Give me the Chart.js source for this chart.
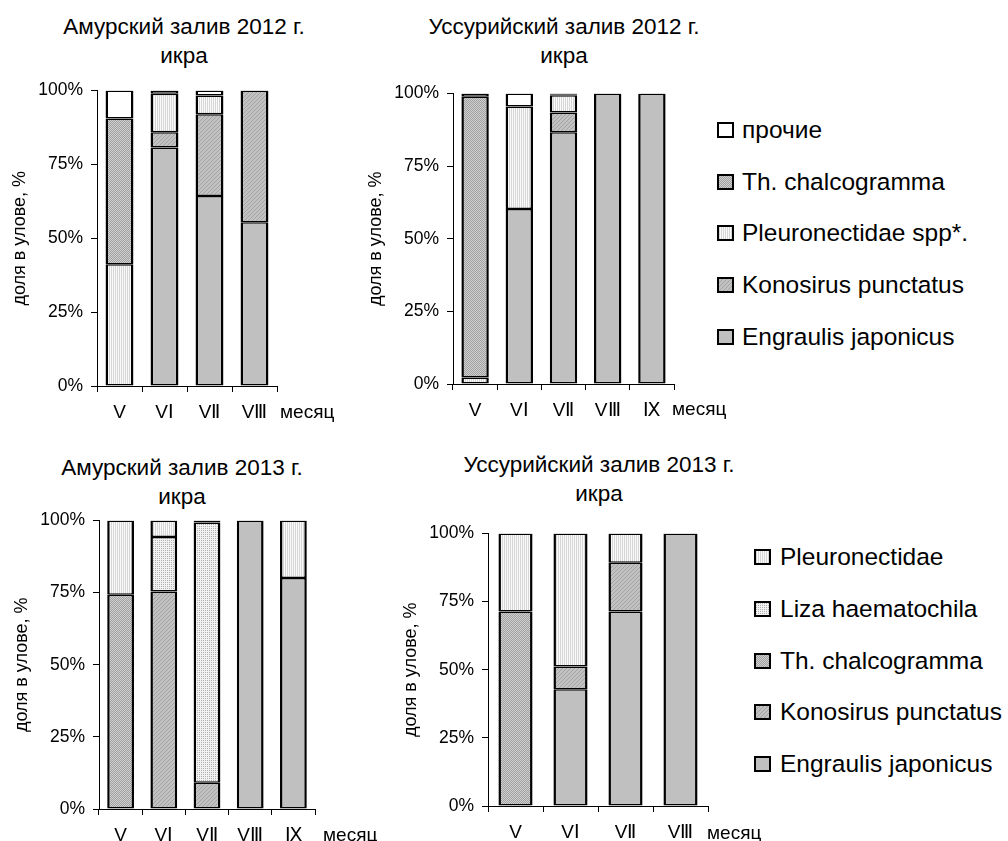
<!DOCTYPE html>
<html>
<head>
<meta charset="utf-8">
<script src="https://cdn.jsdelivr.net/npm/chart.js@4.4.1/dist/chart.umd.min.js"></script>
<style>
  html, body { margin: 0; padding: 0; background: #fff; }
  body { width: 1008px; height: 841px; position: relative; overflow: hidden;
         font-family: "Liberation Sans", Arial, sans-serif; color: #000; }
  .plot { position: absolute; }
  .ttl { position: absolute; width: 340px; text-align: center; font-size: 22.5px;
         line-height: 29px; white-space: nowrap; }
  .unit { position: absolute; font-size: 19px; line-height: 22px; white-space: nowrap; }
  .li { position: absolute; white-space: nowrap; font-size: 24.5px; line-height: 26px; height: 26px; }
  .li canvas { position: absolute; left: 0; top: 5px; }
  .li span { position: absolute; top: 0; }
</style>
</head>
<body>
<div class="ttl" style="left:14px;top:12px">Амурский залив 2012 г.<br>икра</div>
<div class="ttl" style="left:394px;top:12px">Уссурийский залив 2012 г.<br>икра</div>
<div class="ttl" style="left:12px;top:453px">Амурский залив 2013 г.<br>икра</div>
<div class="ttl" style="left:429px;top:450px">Уссурийский залив 2013 г.<br>икра</div>

<canvas id="amur2012" class="plot"></canvas>
<canvas id="ussuri2012" class="plot"></canvas>
<canvas id="amur2013" class="plot"></canvas>
<canvas id="ussuri2013" class="plot"></canvas>

<div class="unit" style="left:280px;top:401px">месяц</div>
<div class="unit" style="left:672px;top:398px">месяц</div>
<div class="unit" style="left:323px;top:824px">месяц</div>
<div class="unit" style="left:707px;top:822px">месяц</div>

<div id="legend2012"></div>
<div id="legend2013"></div>

<script>
// ---- month categories ----
const monthsAmur2012   = ['V', 'VⅠ', 'VⅡ', 'VⅢ'];
const monthsUssuri2012 = ['V', 'VⅠ', 'VⅡ', 'VⅢ', 'Ⅸ'];
const monthsAmur2013   = ['V', 'VⅠ', 'VⅡ', 'VⅢ', 'Ⅸ'];
const monthsUssuri2013 = ['V', 'VⅠ', 'VⅡ', 'VⅢ'];

// ---- y-axis ticks ----
const percentTicks = [0, 25, 50, 75, 100];

// ---- species shares of egg catch, % (Амурский залив 2012) ----
const amur2012Engraulis = [0, 80.7, 64.3, 55.4];
const amur2012Konosirus = [0, 5.2, 27.7, 44.6];
const amur2012Pleuro    = [41.2, 13.0, 6.3, 0];
const amur2012Chalco    = [49.3, 0, 0, 0];
const amur2012Other     = [9.5, 1.1, 1.7, 0];

// ---- Уссурийский залив 2012 ----
const ussuri2012Engraulis = [0, 60.2, 86.7, 100, 100];
const ussuri2012Konosirus = [0, 0, 6.8, 0, 0];
const ussuri2012Pleuro    = [2.2, 35.3, 5.9, 0, 0];
const ussuri2012Chalco    = [96.7, 0, 0.3, 0, 0];
const ussuri2012Other     = [1.1, 4.5, 0.3, 0, 0];

// ---- Амурский залив 2013 ----
const amur2013Engraulis = [0, 0, 0, 100, 80.1];
const amur2013Konosirus = [0, 75.4, 9.1, 0, 0];
const amur2013Chalco    = [74.3, 0, 0, 0, 0];
const amur2013Liza      = [0, 18.9, 90.2, 0, 0];
const amur2013Pleuro    = [25.7, 5.7, 0.7, 0, 19.9];

// ---- Уссурийский залив 2013 ----
const ussuri2013Engraulis = [0, 42.8, 71.4, 100];
const ussuri2013Konosirus = [0, 8.4, 17.9, 0];
const ussuri2013Chalco    = [71.4, 0, 0, 0];
const ussuri2013Liza      = [0, 0, 0, 0];
const ussuri2013Pleuro    = [28.6, 48.8, 10.7, 0];

const FONT = '"Liberation Sans", Arial, sans-serif';

// Small tiled fills imitating the monochrome hatching
function tile(w, h, painter) {
  const c = document.createElement('canvas');
  c.width = w; c.height = h;
  const g = c.getContext('2d');
  painter(g);
  return document.createElement('canvas').getContext('2d').createPattern(c, 'repeat');
}
function px(g, x, y, col) { g.fillStyle = col; g.fillRect(x, y, 1, 1); }

const fills = {
  engraulis: '#c0c0c0',
  konosirus: tile(4, 4, g => {
    g.fillStyle = '#c2c2c2'; g.fillRect(0, 0, 4, 4);
    for (let i = 0; i < 4; i++) px(g, i, 3 - i, '#a2a2a2');
  }),
  chalco: tile(2, 2, g => {
    g.fillStyle = '#d0d0d0'; g.fillRect(0, 0, 2, 2);
    px(g, 0, 0, '#a0a0a0'); px(g, 1, 1, '#a0a0a0');
  }),
  pleuro: tile(2, 1, g => {
    g.fillStyle = '#fafafa'; g.fillRect(0, 0, 2, 1);
    px(g, 0, 0, '#d6d6d6');
  }),
  liza: tile(2, 2, g => {
    g.fillStyle = '#f2f2f2'; g.fillRect(0, 0, 2, 2);
    px(g, 0, 0, '#b0b0b0');
  }),
  other: '#ffffff'
};

function dataset(label, data, fill) {
  return {
    label, data,
    backgroundColor: fill,
    borderColor: '#000',
    borderWidth: { left: 2.5, right: 2.5, top: 1.5, bottom: 1.5 },
    borderSkipped: false,
    inflateAmount: 0,
    barPercentage: 0.62,
    categoryPercentage: 1
  };
}

// area = plot rectangle on the page: left, top, right, bottom
function panel(id, area, labels, datasets) {
  const padL = 88, padT = 12, padR = 12, padB = 40;
  const cv = document.getElementById(id);
  const w = area.r - area.l + padL + padR;
  const h = area.b - area.t + padT + padB;
  cv.width = w; cv.height = h;
  cv.style.left = (area.l - padL) + 'px';
  cv.style.top = (area.t - padT) + 'px';
  cv.style.width = w + 'px';
  cv.style.height = h + 'px';
  return new Chart(cv, {
    type: 'bar',
    data: { labels, datasets },
    options: {
      responsive: false,
      animation: false,
      devicePixelRatio: 1,
      layout: { padding: { left: 0, top: padT, right: padR, bottom: 0 } },
      plugins: { legend: { display: false }, tooltip: { enabled: false }, title: { display: false } },
      scales: {
        x: {
          stacked: true,
          grid: { offset: true, drawOnChartArea: false, drawTicks: true, tickLength: 6, color: '#000', lineWidth: 1 },
          border: { display: true, color: '#000', width: 1 },
          ticks: { color: '#000', font: { family: FONT, size: 19 }, padding: 9, maxRotation: 0, autoSkip: false },
          afterFit(s) { s.height = padB; }
        },
        y: {
          stacked: true,
          min: 0, max: 100,
          afterBuildTicks(s) { s.ticks = percentTicks.map(v => ({ value: v })); },
          ticks: { color: '#000', font: { family: FONT, size: 17.5 }, padding: 8, callback: v => v + '%' },
          grid: { drawOnChartArea: false, drawTicks: true, tickLength: 6, color: '#000', lineWidth: 1 },
          border: { display: true, color: '#000', width: 1 },
          title: { display: true, text: 'доля в улове, %', color: '#000', font: { family: FONT, size: 18 }, padding: 0 },
          afterFit(s) { s.width = padL; }
        }
      }
    }
  });
}

const chart2012a = panel('amur2012', { l: 97, t: 84, r: 277, b: 386 }, monthsAmur2012, [
  dataset('Engraulis japonicus', amur2012Engraulis, fills.engraulis),
  dataset('Konosirus punctatus', amur2012Konosirus, fills.konosirus),
  dataset('Pleuronectidae spp*.', amur2012Pleuro, fills.pleuro),
  dataset('Th. chalcogramma', amur2012Chalco, fills.chalco),
  dataset('прочие', amur2012Other, fills.other)
]);

const chart2012u = panel('ussuri2012', { l: 453, t: 87, r: 674, b: 384 }, monthsUssuri2012, [
  dataset('Engraulis japonicus', ussuri2012Engraulis, fills.engraulis),
  dataset('Konosirus punctatus', ussuri2012Konosirus, fills.konosirus),
  dataset('Pleuronectidae spp*.', ussuri2012Pleuro, fills.pleuro),
  dataset('Th. chalcogramma', ussuri2012Chalco, fills.chalco),
  dataset('прочие', ussuri2012Other, fills.other)
]);

const chart2013a = panel('amur2013', { l: 99, t: 514, r: 315, b: 809 }, monthsAmur2013, [
  dataset('Engraulis japonicus', amur2013Engraulis, fills.engraulis),
  dataset('Konosirus punctatus', amur2013Konosirus, fills.konosirus),
  dataset('Th. chalcogramma', amur2013Chalco, fills.chalco),
  dataset('Liza haematochila', amur2013Liza, fills.liza),
  dataset('Pleuronectidae', amur2013Pleuro, fills.pleuro)
]);

const chart2013u = panel('ussuri2013', { l: 488, t: 527, r: 708, b: 806 }, monthsUssuri2013, [
  dataset('Engraulis japonicus', ussuri2013Engraulis, fills.engraulis),
  dataset('Konosirus punctatus', ussuri2013Konosirus, fills.konosirus),
  dataset('Th. chalcogramma', ussuri2013Chalco, fills.chalco),
  dataset('Liza haematochila', ussuri2013Liza, fills.liza),
  dataset('Pleuronectidae', ussuri2013Pleuro, fills.pleuro)
]);

// Vertical legends listing the series top-of-stack first
function legend(holderId, chart, boxLeft, textLeft, centers) {
  const holder = document.getElementById(holderId);
  const items = chart.data.datasets.slice().reverse();
  items.forEach((ds, i) => {
    const row = document.createElement('div');
    row.className = 'li';
    row.style.left = boxLeft + 'px';
    row.style.top = (centers[i] - 13) + 'px';
    const sw = document.createElement('canvas');
    sw.width = 17; sw.height = 16;
    const g = sw.getContext('2d');
    g.fillStyle = ds.backgroundColor;
    g.fillRect(0, 0, 17, 16);
    g.strokeStyle = '#000'; g.lineWidth = 2;
    g.strokeRect(1, 1, 15, 14);
    row.appendChild(sw);
    const tx = document.createElement('span');
    tx.textContent = ds.label;
    tx.style.left = (textLeft - boxLeft) + 'px';
    row.appendChild(tx);
    holder.appendChild(row);
  });
}
legend('legend2012', chart2012u, 717, 742, [130, 182, 233, 285, 337]);
legend('legend2013', chart2013u, 754, 780, [557, 609, 661, 712, 764]);
</script>
</body>
</html>
